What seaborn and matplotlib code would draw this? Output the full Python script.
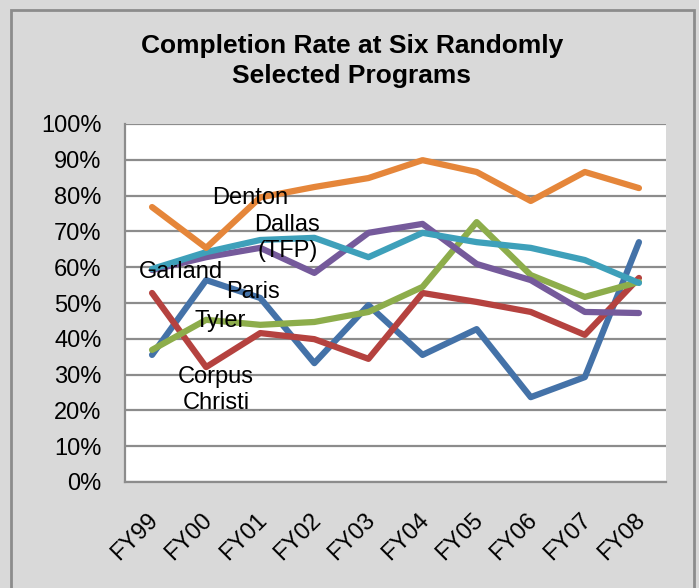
import numpy as np
import pandas as pd
import seaborn as sns
import matplotlib.pyplot as plt
import matplotlib.transforms as mtransforms
from matplotlib.patches import Rectangle

# Data
years = ['FY99', 'FY00', 'FY01', 'FY02', 'FY03', 'FY04', 'FY05', 'FY06', 'FY07', 'FY08']
paris = [35.5, 56.4, 51.4, 33.2, 49.4, 35.5, 42.7, 23.7, 29.3, 67.0]
corpus_christi = [52.8, 32.1, 41.6, 39.9, 34.4, 52.8, 50.3, 47.5, 41.1, 57.0]
tyler = [36.9, 45.3, 43.9, 44.7, 47.5, 54.5, 72.6, 57.8, 51.7, 55.9]
garland = [59.2, 62.8, 65.4, 58.4, 69.6, 72.1, 60.9, 56.4, 47.5, 47.2]
dallas = [59.5, 64.2, 67.6, 68.2, 62.8, 69.6, 67.0, 65.4, 62.0, 55.6]
denton = [76.8, 65.4, 79.5, 82.4, 84.9, 89.9, 86.6, 78.5, 86.6, 82.1]

programs = ['Paris', 'Corpus Christi', 'Tyler', 'Garland', 'Dallas (TFP)', 'Denton']
colors = ['#4472A8', '#B5423F', '#8DAD4B', '#755A9B', '#3EA0BA', '#E5863A']

series = [paris, corpus_christi, tyler, garland, dallas, denton]
df = pd.DataFrame({
    'x': np.tile(np.arange(len(years)), len(programs)),
    'rate': np.concatenate(series),
    'program': np.repeat(programs, len(years)),
})

sns.set_style('white')
plt.rcParams['font.family'] = ['Liberation Sans', 'DejaVu Sans']
plt.rcParams['text.color'] = 'black'
plt.rcParams['xtick.labelcolor'] = 'black'
plt.rcParams['ytick.labelcolor'] = 'black'

fig = plt.figure(figsize=(6.99, 5.88), dpi=100, facecolor='#D9D9D9')
fig.patches.append(Rectangle((11 / 699, -0.1), 683 / 699, 1.1 - 10 / 588, transform=fig.transFigure,
                             fill=False, edgecolor='#8C8C8C', linewidth=2))
ax = fig.add_axes([125 / 699, 1 - 482 / 588, 541 / 699, 358 / 588])
ax.set_facecolor('white')

sns.lineplot(data=df, x='x', y='rate', hue='program', hue_order=programs,
             palette=colors, linewidth=4.5, legend=False, ax=ax,
             solid_capstyle='round', solid_joinstyle='round')

ax.set_xlim(-0.5, len(years) - 0.5)
ax.set_ylim(0, 100)
yt = np.arange(0, 101, 10)
ax.set_yticks(yt)
ax.set_yticklabels([f'{v}%' for v in yt], fontsize=17)
ax.yaxis.grid(True, color='#8C8C8C', linewidth=1.6)
ax.set_axisbelow(True)

# category labels between boundary ticks (Excel style)
ax.set_xticks(np.arange(len(years)))
ax.set_xticklabels(years, fontsize=17, rotation=45, ha='right', va='center', rotation_mode='anchor')
ax.tick_params(axis='x', which='major', length=0, pad=0)
ax.set_xticks(np.arange(-0.5, len(years)), minor=True)
ax.tick_params(axis='x', which='minor', length=6, width=1.6, color='#8C8C8C', direction='out')
ax.tick_params(axis='y', length=6, width=1.6, color='#8C8C8C', direction='out', pad=11)
offset = mtransforms.ScaledTranslation(0.03, -0.35, fig.dpi_scale_trans)
for lbl in ax.get_xticklabels():
    lbl.set_transform(lbl.get_transform() + offset)

for side in ['top', 'right']:
    ax.spines[side].set_visible(False)
for side in ['left', 'bottom']:
    ax.spines[side].set_color('#8C8C8C')
    ax.spines[side].set_linewidth(1.6)

ax.set_xlabel('')
ax.set_ylabel('')

# series labels placed inside the plot
label_kw = dict(fontsize=17, ha='center', va='center', color='black')
ax.text(1.81, 79.3, 'Denton', **label_kw)
ax.text(2.5, 68.2, 'Dallas\n(TFP)', linespacing=1.2, **label_kw)
ax.text(0.54, 58.7, 'Garland', **label_kw)
ax.text(1.87, 53.0, 'Paris', **label_kw)
ax.text(1.26, 45.0, 'Tyler', **label_kw)
ax.text(1.18, 25.8, 'Corpus\nChristi', linespacing=1.25, **label_kw)

fig.text(352 / 699, 1 - 61 / 588, 'Completion Rate at Six Randomly\nSelected Programs',
         fontsize=19, fontweight='bold', ha='center', va='center', linespacing=1.3, color='black')

fig.savefig('out.png', dpi=100, facecolor=fig.get_facecolor())
